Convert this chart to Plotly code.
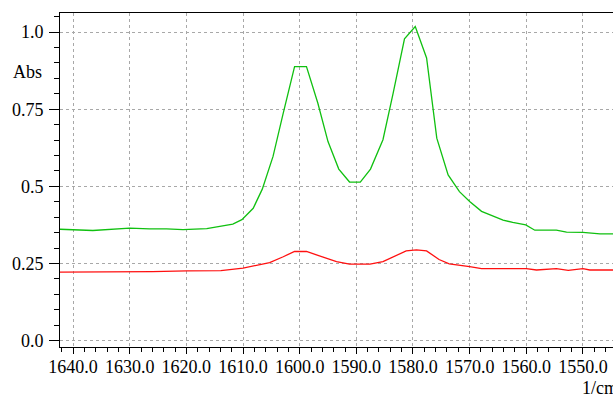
import plotly.graph_objects as go

# Wavenumbers (1/cm) and absorbance values
wn_green = [1642.3, 1636.5, 1630.0, 1626.5, 1623.5, 1620.6, 1616.4, 1614.1, 1611.8, 1610.2,
            1608.2, 1606.6, 1604.7, 1602.9, 1600.9, 1598.8, 1596.8, 1595.0, 1593.1, 1591.2,
            1589.3, 1587.5, 1585.3, 1583.5, 1581.5, 1579.6, 1577.6, 1575.8, 1573.8, 1571.8,
            1570.0, 1567.9, 1564.1, 1562.4, 1560.1, 1558.5, 1554.7, 1552.9, 1550.0, 1547.0,
            1544.7]
abs_green = [0.361, 0.357, 0.365, 0.362, 0.362, 0.360, 0.363, 0.370, 0.378, 0.392,
             0.429, 0.491, 0.597, 0.737, 0.888, 0.888, 0.770, 0.645, 0.556, 0.514,
             0.514, 0.556, 0.651, 0.802, 0.978, 1.018, 0.916, 0.656, 0.537, 0.483,
             0.451, 0.419, 0.391, 0.383, 0.375, 0.358, 0.358, 0.352, 0.351, 0.346,
             0.346]

wn_red = [1642.3, 1628.2, 1626.0, 1619.9, 1613.9, 1610.0, 1608.8, 1605.3, 1602.9, 1600.9,
          1598.8, 1596.5, 1593.5, 1591.2, 1587.6, 1585.3, 1582.9, 1581.2, 1579.4, 1577.6,
          1575.4, 1573.6, 1570.0, 1567.9, 1560.0, 1558.2, 1554.7, 1552.6, 1550.0, 1548.8,
          1544.7]
abs_red = [0.222, 0.222, 0.224, 0.226, 0.227, 0.235, 0.240, 0.253, 0.272, 0.289,
           0.289, 0.275, 0.256, 0.248, 0.248, 0.256, 0.275, 0.291, 0.294, 0.291,
           0.263, 0.249, 0.240, 0.2335, 0.2335, 0.229, 0.2335, 0.228, 0.2335, 0.229,
           0.229]

x_ticks = [1640, 1630, 1620, 1610, 1600, 1590, 1580, 1570, 1560, 1550]
x_labels = ["1640.0", "1630.0", "1620.0", "1610.0", "1600.0", "1590.0", "1580.0",
            "1570.0", "1560.0", "1550.0"]
y_ticks = [0.0, 0.25, 0.5, 0.75, 1.0]
y_labels = ["0.0", "0.25", "0.5", "0.75", "1.0"]

FONT = "Liberation Serif"

fig = go.Figure()
fig.add_trace(go.Scatter(x=wn_green, y=abs_green, mode="lines",
                         line=dict(color="#10c010", width=1.3), showlegend=False))
fig.add_trace(go.Scatter(x=wn_red, y=abs_red, mode="lines",
                         line=dict(color="#ff1010", width=1.3), showlegend=False))

fig.update_layout(
    width=613, height=397,
    margin=dict(l=60, r=0, t=13, b=50),
    paper_bgcolor="white", plot_bgcolor="white",
    font=dict(family=FONT, size=18, color="black"),
    xaxis=dict(
        range=[1642.3, 1544.7], autorange=False,
        tickvals=x_ticks, ticktext=x_labels, tickangle=0,
        ticks="outside", ticklen=6, tickwidth=1, tickcolor="black",
        ticklabelstandoff=-3,
        showline=True, linecolor="black", linewidth=1, mirror=True,
        showgrid=True, gridcolor="#a8a8a8", griddash="dot", gridwidth=1,
        zeroline=False,
        minor=dict(dtick=2, tick0=1640, ticks="outside", ticklen=4,
                   tickcolor="black", showgrid=False),
        tickfont=dict(family=FONT, size=18),
    ),
    yaxis=dict(
        range=[-0.0204, 1.0616], autorange=False,
        tickvals=y_ticks, ticktext=y_labels,
        ticks="outside", ticklen=10, tickwidth=1, tickcolor="black",
        ticklabelstandoff=2,
        showline=True, linecolor="black", linewidth=1, mirror=True,
        showgrid=True, gridcolor="#a8a8a8", griddash="dot", gridwidth=1,
        zeroline=False,
        minor=dict(dtick=0.05, tick0=0, ticks="outside", ticklen=5,
                   tickcolor="black", showgrid=False),
        tickfont=dict(family=FONT, size=18),
    ),
    annotations=[
        dict(text="Abs", xref="paper", yref="paper", x=-0.0579, y=0.824,
             xanchor="center", yanchor="middle", showarrow=False,
             font=dict(family=FONT, size=18)),
        dict(text="1/cm", xref="paper", yref="paper", x=0.940, y=-0.123,
             xanchor="left", yanchor="middle", showarrow=False,
             font=dict(family=FONT, size=18)),
    ],
)

fig.write_html("out.html")
